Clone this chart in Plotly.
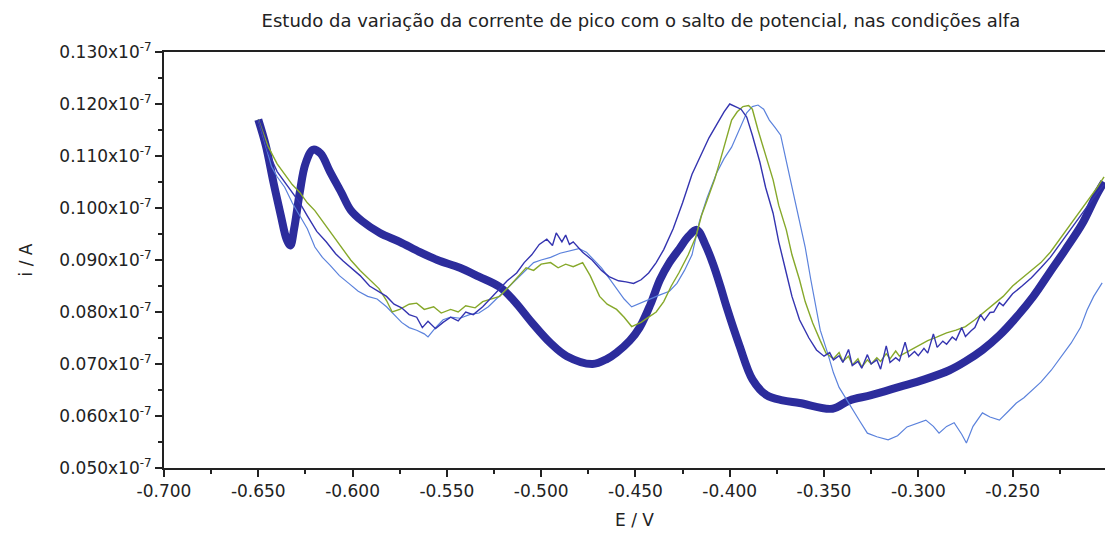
import plotly.graph_objects as go

# Potential (V) and peak current (x10^-7 A) for the four sweeps
e_thick = [-0.650, -0.646, -0.642, -0.638, -0.635, -0.633, -0.631, -0.628, -0.625, -0.621,
           -0.617, -0.612, -0.606, -0.601, -0.595, -0.5855, -0.575, -0.5643, -0.555, -0.5431,
           -0.533, -0.5219, -0.514, -0.505, -0.495, -0.4864, -0.4727, -0.465, -0.460, -0.453,
           -0.4478, -0.442, -0.437, -0.432, -0.4266, -0.422, -0.4175, -0.413, -0.409, -0.405,
           -0.4017, -0.3948, -0.3879, -0.3805, -0.372, -0.363, -0.3455, -0.3365, -0.325, -0.310,
           -0.297, -0.2835, -0.275, -0.266, -0.257, -0.248, -0.239, -0.2305, -0.222, -0.213,
           -0.2055, -0.2015]
i_thick = [0.1170, 0.1120, 0.1050, 0.0985, 0.0940, 0.0928, 0.0960, 0.1030, 0.1085, 0.1112,
           0.1105, 0.1070, 0.1030, 0.0996, 0.0975, 0.0952, 0.0935, 0.0915, 0.0900, 0.0885,
           0.0868, 0.0848, 0.0820, 0.0780, 0.0740, 0.0715, 0.0700, 0.0710, 0.0722, 0.0745,
           0.0770, 0.0815, 0.0862, 0.0895, 0.0922, 0.0945, 0.0958, 0.0930, 0.0894, 0.0850,
           0.0810, 0.0735, 0.0670, 0.0640, 0.0630, 0.0625, 0.0614, 0.0630, 0.0640, 0.0656,
           0.0670, 0.0688, 0.0705, 0.0727, 0.0755, 0.0790, 0.0830, 0.0875, 0.0920, 0.0970,
           0.1025, 0.1050]

e_navy = [-0.650, -0.645, -0.640, -0.636, -0.632, -0.628, -0.624, -0.619, -0.614, -0.609,
          -0.605, -0.601, -0.596, -0.591, -0.586, -0.582, -0.578, -0.574, -0.570, -0.566,
          -0.563, -0.560, -0.556, -0.552, -0.548, -0.544, -0.540, -0.536, -0.531, -0.527,
          -0.522, -0.518, -0.513, -0.509, -0.505, -0.501, -0.497, -0.494, -0.492, -0.489,
          -0.487, -0.485, -0.483, -0.478, -0.473, -0.468, -0.464, -0.459, -0.455, -0.451,
          -0.447, -0.443, -0.439, -0.435, -0.430, -0.425, -0.420, -0.415, -0.411, -0.407,
          -0.403, -0.400, -0.397, -0.394, -0.391, -0.388, -0.384, -0.381, -0.377, -0.374,
          -0.370, -0.367, -0.363, -0.358, -0.354, -0.350, -0.347, -0.345, -0.342, -0.340,
          -0.337, -0.335, -0.332, -0.330, -0.327, -0.325, -0.322, -0.320, -0.317, -0.315,
          -0.312, -0.310, -0.307, -0.305, -0.302, -0.300, -0.297, -0.295, -0.292, -0.290,
          -0.287, -0.285, -0.282, -0.280, -0.277, -0.275, -0.272, -0.270, -0.267, -0.265,
          -0.262, -0.260, -0.257, -0.255, -0.252, -0.250, -0.245, -0.240, -0.235, -0.230,
          -0.225, -0.220, -0.215, -0.210, -0.205, -0.2015]
i_navy = [0.1170, 0.1110, 0.1070, 0.1050, 0.1030, 0.1010, 0.0985, 0.0955, 0.0935, 0.0912,
          0.0898, 0.0885, 0.0870, 0.0850, 0.0838, 0.0830, 0.0815, 0.0808, 0.0795, 0.0790,
          0.0770, 0.0782, 0.0768, 0.0780, 0.0790, 0.0783, 0.0800, 0.0795, 0.0810, 0.0825,
          0.0845, 0.0860, 0.0875, 0.0895, 0.0910, 0.0930, 0.0940, 0.0928, 0.0952, 0.0935,
          0.0948, 0.0930, 0.0935, 0.0915, 0.0900, 0.0880, 0.0868, 0.0860, 0.0858, 0.0855,
          0.0862, 0.0875, 0.0895, 0.0920, 0.0960, 0.1010, 0.1065, 0.1105, 0.1135, 0.1160,
          0.1185, 0.1200, 0.1195, 0.1190, 0.1175, 0.1140, 0.1088, 0.1040, 0.0990, 0.0935,
          0.0875, 0.0830, 0.0785, 0.0750, 0.0727, 0.0715, 0.0722, 0.0708, 0.0716, 0.0703,
          0.0728, 0.0697, 0.0705, 0.0692, 0.0718, 0.0700, 0.0708, 0.0690, 0.0735, 0.0703,
          0.0712, 0.0706, 0.0742, 0.0714, 0.0724, 0.0716, 0.0730, 0.0721, 0.0758, 0.0732,
          0.0744, 0.0738, 0.0752, 0.0746, 0.0770, 0.0753, 0.0764, 0.0770, 0.0795, 0.0784,
          0.0799, 0.0800, 0.0818, 0.0812, 0.0826, 0.0835, 0.0850, 0.0866, 0.0885, 0.0905,
          0.0930, 0.0955, 0.0980, 0.1005, 0.1030, 0.1045]

e_green = [-0.650, -0.645, -0.640, -0.636, -0.632, -0.628, -0.624, -0.620, -0.615, -0.610,
           -0.605, -0.601, -0.596, -0.591, -0.586, -0.582, -0.579, -0.575, -0.570, -0.566,
           -0.562, -0.557, -0.553, -0.548, -0.544, -0.540, -0.535, -0.531, -0.527, -0.522,
           -0.518, -0.513, -0.508, -0.504, -0.500, -0.495, -0.491, -0.487, -0.483, -0.478,
           -0.474, -0.469, -0.465, -0.460, -0.456, -0.452, -0.447, -0.443, -0.439, -0.435,
           -0.431, -0.427, -0.422, -0.418, -0.415, -0.412, -0.408, -0.405, -0.402, -0.399,
           -0.396, -0.393, -0.390, -0.388, -0.385, -0.381, -0.377, -0.374, -0.370, -0.367,
           -0.363, -0.360, -0.356, -0.352, -0.349, -0.345, -0.342, -0.340, -0.337, -0.335,
           -0.332, -0.330, -0.327, -0.325, -0.322, -0.320, -0.317, -0.315, -0.312, -0.310,
           -0.305, -0.300, -0.295, -0.290, -0.285, -0.280, -0.275, -0.270, -0.265, -0.260,
           -0.255, -0.250, -0.245, -0.240, -0.235, -0.230, -0.225, -0.220, -0.215, -0.210,
           -0.205, -0.2015]
i_green = [0.1170, 0.1120, 0.1085, 0.1065, 0.1045, 0.1030, 0.1010, 0.0995, 0.0970, 0.0945,
           0.0920, 0.0900, 0.0880, 0.0862, 0.0845, 0.0822, 0.0800, 0.0805, 0.0815, 0.0817,
           0.0805, 0.0810, 0.0798, 0.0805, 0.0800, 0.0812, 0.0808, 0.0820, 0.0825, 0.0830,
           0.0845, 0.0865, 0.0885, 0.0880, 0.0892, 0.0895, 0.0885, 0.0892, 0.0887, 0.0895,
           0.0870, 0.0830, 0.0815, 0.0805, 0.0790, 0.0772, 0.0780, 0.0790, 0.0800, 0.0820,
           0.0850, 0.0875, 0.0910, 0.0944, 0.0985, 0.1015, 0.1055, 0.1092, 0.1130, 0.1169,
           0.1185, 0.1195, 0.1197, 0.1190, 0.1150, 0.1100, 0.1054, 0.1005, 0.0958, 0.0910,
           0.0862, 0.0820, 0.0779, 0.0745, 0.0721, 0.0710, 0.0722, 0.0705, 0.0715, 0.0698,
           0.0710, 0.0694, 0.0708, 0.0700, 0.0712, 0.0705, 0.0720, 0.0710, 0.0725, 0.0715,
           0.0725, 0.0735, 0.0745, 0.0752, 0.0760, 0.0765, 0.0772, 0.0785, 0.0800, 0.0815,
           0.0830, 0.0850, 0.0865, 0.0880, 0.0895, 0.0915, 0.0940, 0.0965, 0.0990, 0.1015,
           0.1040, 0.1060]

e_light = [-0.650, -0.646, -0.643, -0.640, -0.636, -0.632, -0.628, -0.624, -0.620, -0.616,
           -0.612, -0.607, -0.602, -0.597, -0.592, -0.587, -0.582, -0.578, -0.574, -0.570,
           -0.566, -0.562, -0.560, -0.556, -0.552, -0.548, -0.543, -0.538, -0.533, -0.528,
           -0.523, -0.518, -0.513, -0.508, -0.504, -0.500, -0.495, -0.490, -0.485, -0.480,
           -0.476, -0.472, -0.468, -0.464, -0.460, -0.456, -0.452, -0.447, -0.442, -0.437,
           -0.432, -0.428, -0.424, -0.420, -0.416, -0.412, -0.407, -0.403, -0.399, -0.395,
           -0.391, -0.388, -0.385, -0.382, -0.379, -0.376, -0.373, -0.370, -0.367, -0.363,
           -0.360, -0.357, -0.354, -0.352, -0.348, -0.345, -0.342, -0.338, -0.335, -0.331,
           -0.327, -0.322, -0.316, -0.311, -0.306, -0.301, -0.296, -0.292, -0.289, -0.285,
           -0.281, -0.277, -0.2745, -0.271, -0.266, -0.262, -0.257, -0.252, -0.248, -0.244,
           -0.2395, -0.235, -0.2295, -0.224, -0.219, -0.214, -0.2105, -0.207, -0.2025]
i_light = [0.1170, 0.1120, 0.1080, 0.1060, 0.1040, 0.1010, 0.0985, 0.0960, 0.0925, 0.0905,
           0.0890, 0.0870, 0.0855, 0.0840, 0.0830, 0.0825, 0.0810, 0.0795, 0.0780, 0.0770,
           0.0765, 0.0758, 0.0752, 0.0770, 0.0785, 0.0790, 0.0788, 0.0795, 0.0798, 0.0810,
           0.0828, 0.0845, 0.0862, 0.0880, 0.0895, 0.0900, 0.0905, 0.0913, 0.0918, 0.0922,
           0.0915, 0.0900, 0.0885, 0.0865, 0.0845, 0.0825, 0.0810, 0.0818, 0.0825, 0.0833,
           0.0840, 0.0855, 0.0880, 0.0910, 0.0975, 0.1020, 0.1067, 0.1095, 0.1117, 0.1150,
           0.1183, 0.1195, 0.1198, 0.1190, 0.1169, 0.1155, 0.1140, 0.1090, 0.1040, 0.0977,
           0.0925, 0.0862, 0.0800, 0.0765, 0.0720, 0.0683, 0.0655, 0.0631, 0.0612, 0.0590,
           0.0567, 0.0560, 0.0554, 0.0562, 0.0579, 0.0585, 0.0592, 0.0580, 0.0567, 0.0580,
           0.0587, 0.0565, 0.0548, 0.0580, 0.0606, 0.0598, 0.0592, 0.0610, 0.0625, 0.0635,
           0.0650, 0.0665, 0.0688, 0.0715, 0.0740, 0.0770, 0.0804, 0.0830, 0.0856]

y_ticks = [0.050, 0.060, 0.070, 0.080, 0.090, 0.100, 0.110, 0.120, 0.130]
y_labels = [f"{v:.3f}x10<sup>-7</sup>" for v in y_ticks]
x_ticks = [-0.700, -0.650, -0.600, -0.550, -0.500, -0.450, -0.400, -0.350, -0.300, -0.250]
x_labels = [f"{v:.3f}" for v in x_ticks]

FONT = "DejaVu Sans"
INK = "#222222"

fig = go.Figure()
fig.add_trace(go.Scatter(x=e_thick, y=i_thick, mode="lines",
                         line=dict(color="#2c2c9c", width=8), line_shape="spline"))
fig.add_trace(go.Scatter(x=e_light, y=i_light, mode="lines",
                         line=dict(color="#5b82dc", width=1.2)))
fig.add_trace(go.Scatter(x=e_green, y=i_green, mode="lines",
                         line=dict(color="#86a82a", width=1.4)))
fig.add_trace(go.Scatter(x=e_navy, y=i_navy, mode="lines",
                         line=dict(color="#3434b0", width=1.4)))

fig.update_layout(
    width=1105, height=539,
    margin=dict(l=164, r=0, t=52, b=71),
    paper_bgcolor="white", plot_bgcolor="white",
    showlegend=False,
    font=dict(family=FONT, color=INK, size=16),
    title=dict(text="Estudo da variação da corrente de pico com o salto de potencial, nas condições alfa",
               x=0.58, xanchor="center", y=0.962, yanchor="middle",
               font=dict(family=FONT, size=18, color=INK)),
)
fig.update_xaxes(
    range=[-0.700, -0.201], showgrid=False, zeroline=False,
    showline=True, linecolor=INK, linewidth=2, mirror=True,
    ticks="outside", ticklen=7, tickwidth=1.5, tickcolor=INK,
    tickvals=x_ticks, ticktext=x_labels, tickfont=dict(size=17),
    minor=dict(ticks="outside", ticklen=4, tickwidth=1.5, tickcolor=INK, dtick=0.025, tick0=-0.7, showgrid=False),
    title=dict(text="E / V", font=dict(size=17), standoff=14),
)
fig.update_yaxes(
    range=[0.050, 0.130], showgrid=False, zeroline=False,
    showline=True, linecolor=INK, linewidth=2, mirror=False,
    ticks="outside", ticklen=7, tickwidth=1.5, tickcolor=INK,
    tickvals=y_ticks, ticktext=y_labels, tickfont=dict(size=17),
    minor=dict(ticks="outside", ticklen=4, tickwidth=1.5, tickcolor=INK, dtick=0.005, tick0=0.05, showgrid=False),
    title=dict(text="i / A", font=dict(size=17), standoff=22),
)

fig.write_html("out.html")
